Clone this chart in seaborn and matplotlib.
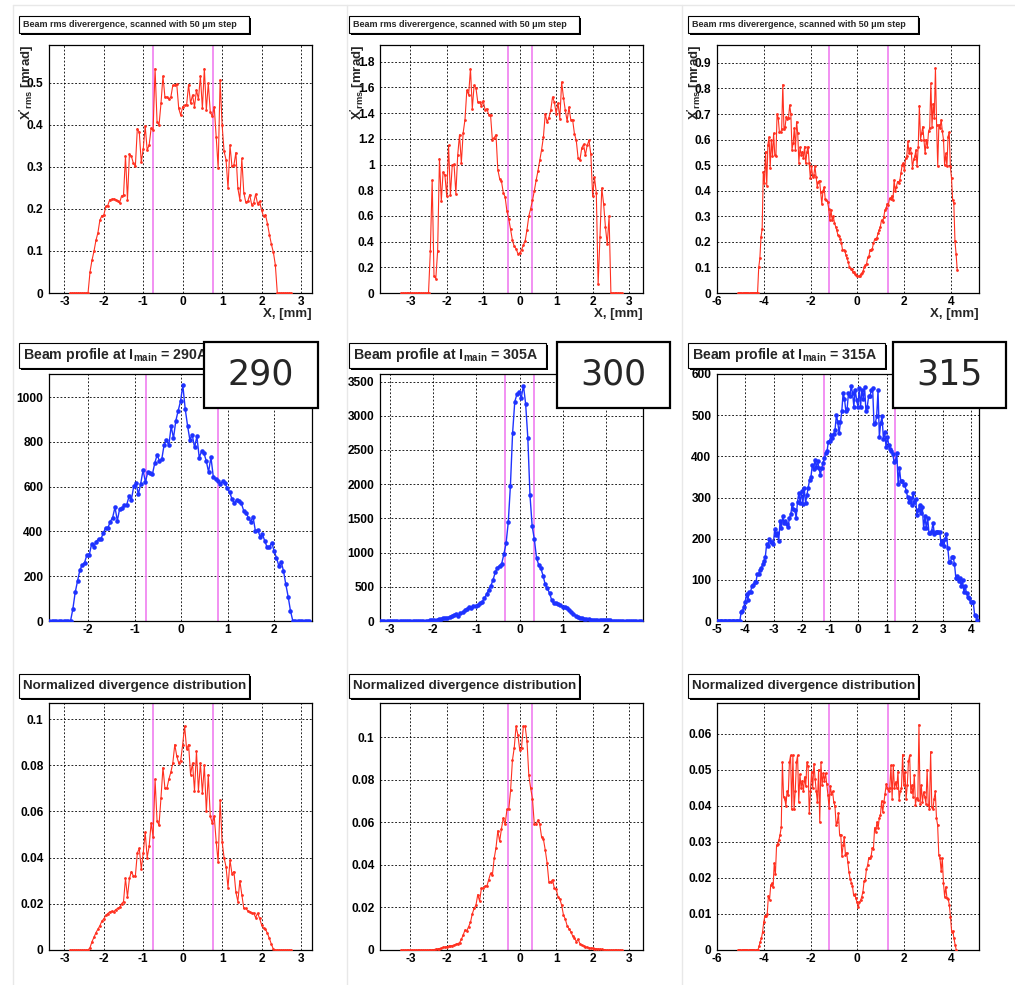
import numpy as np
import matplotlib
matplotlib.use("Agg")
import matplotlib.pyplot as plt
from matplotlib.patches import Rectangle
from matplotlib.lines import Line2D
from matplotlib.ticker import MultipleLocator, AutoMinorLocator, FuncFormatter
import seaborn as sns

# ---- data (x = position in mm, 50 um step) ----
# 290 A: rms divergence [mrad]
div_290 = [0, 0, 0, 0, 0, 0, 0, 0, 0,
    0, .050, .078, .099, .125, .143, .173, .184, .185, .206,
    .208, .222, .223, .224, .222, .220, .214, .231, .233, .325,
    .222, .331, .325, .309, .301, .391, .382, .311, .343, .397,
    .340, .352, .392, .388, .534, .408, .399, .451, .516, .466,
    .466, .462, .466, .494, .494, .497, .439, .423, .443, .447,
    .447, .496, .451, .471, .443, .483, .461, .516, .439, .534,
    .435, .499, .431, .420, .443, .372, .297, .507, .400, .337,
    .317, .249, .352, .301, .305, .334, .249, .222, .320, .239,
    .216, .218, .234, .210, .214, .235, .212, .218, .198, .182,
    .186, .165, .139, .116, .097, .067, 0,
    0, 0, 0, 0, 0, 0, 0]
div_290_range = (-2.85, 2.75)

# 300 A: rms divergence [mrad]
div_300 = [0, 0, 0, 0, 0, 0, 0, 0, 0, 0, 0, 0, 0, 0, 0,
    0, .327, .877, .135, .112, .327, 1.045, .716, .941, .915,
    .752, 1.149, .760, .993, 1.001, .773, 1.071, 1.232, 1.011, 1.247,
    1.349, 1.577, 1.543, 1.745, 1.434, 1.616, 1.597, 1.486, 1.486, 1.457,
    1.494, 1.426, 1.434, 1.387, 1.387, 1.193, 1.208, 1.232, .960, .889,
    .869, .781, .747, .635, .578, .495, .410, .363, .345, .306,
    .311, .337, .371, .405, .493, .599, .656, .721, .794, .877,
    .949, 1.032, 1.115, 1.214, 1.395, 1.330, 1.364, 1.421, 1.525, 1.486,
    1.395, 1.478, 1.356, 1.642, 1.520, 1.421, 1.338, 1.447, 1.349, 1.349,
    1.240, 1.188, 1.053, 1.032, 1.128, 1.157, 1.071, 1.149, 1.188, 1.079,
    .752, .902, .778, .067, .436, .817, .695, .514, .379, .596,
    0, 0, 0, 0, 0, 0, 0]
div_300_range = (-3.25, 2.80)

# 315 A: rms divergence [mrad]
div_315 = [0, 0, 0, 0, 0, 0, 0, 0, 0, 0, 0, 0, 0, 0, 0, 0, 0, 0,
    .10, .135, .22, .25,
    .475, .43, .553, .42, .58, .61, .49, .60, .534, .625,
    .54, .537, .70, .685, .63, .628, .64, .815, .64, .65,
    .69, .68, .685, .735, .70, .56, .586, .645, .56, .67,
    .625, .51, .57, .54, .553, .527, .573, .507, .553, .573,
    .507, .449, .495, .455, .46, .495, .455, .416, .436, .44,
    .395, .348, .40, .413, .366, .364, .357, .33, .285, .325,
    .285, .30, .275, .26, .246, .226, .222, .213, .196, .17,
    .168, .165, .148, .135, .122, .102, .094, .092, .082, .082,
    .073, .069, .068, .065, .068, .073, .078, .086, .102, .108,
    .115, .139, .144, .168, .17, .174, .194, .21, .213, .217,
    .233, .246, .26, .285, .279, .298, .325, .331, .35, .344,
    .37, .368, .38, .364, .442, .397, .416, .436, .432, .442,
    .47, .50, .507, .48, .527, .534, .593, .546, .567, .546,
    .488, .523, .534, .56, .495, .573, .733, .60, .625, .651,
    .60, .546, .60, .573, .632, .645, .82, .651, .74, .685,
    .88, .658, .497, .658, .645, .678, .632, .60, .50, .546,
    .495, .612, .628, .495, .449, .364, .353, .204, .152, .089]
div_315_range = (-5.10, 4.27)

# beam profiles [counts]
prof_290 = [0, 0, 0, 0, 0, 0, 0, 0, 0,
    0, 54, 128, 179, 228, 250, 261, 295, 295, 343,
    332, 355, 367, 367, 392, 417, 417, 444, 462, 508,
    448, 501, 504, 516, 519, 556, 541, 601, 615, 566,
    614, 674, 620, 665, 660, 656, 705, 742, 715, 723,
    787, 808, 784, 869, 817, 894, 939, 981, 1052, 948,
    873, 809, 832, 775, 824, 730, 757, 750, 715, 665,
    732, 645, 635, 627, 613, 623, 615, 593, 575, 545,
    526, 541, 534, 525, 493, 484, 462, 444, 466, 402,
    407, 377, 387, 358, 329, 331, 350, 313, 283, 247,
    265, 224, 164, 109, 45, 0,
    0, 0, 0, 0, 0, 0, 0]
prof_290_range = (-2.83, 2.75)

prof_305 = [0, 0, 0, 0, 0, 0, 0, 0, 0, 0, 0, 0, 0, 0, 0, 0, 0, 0, 0, 0,
    2, 4, 6, 8, 10,
    15, 20, 25, 30, 40, 50, 50, 60, 75, 90,
    100, 75, 110, 125, 160, 175, 210, 195, 225, 225,
    235, 260, 280, 330, 390, 455, 515, 600, 710, 780,
    810, 840, 980, 1135, 1440, 1980, 2745, 3205, 3315, 3345,
    3265, 3440, 3175, 2680, 1840, 1390, 1195, 925, 820, 770,
    665, 535, 480, 405, 305, 260, 260, 250, 235, 210,
    210, 185, 160, 125, 100, 80, 65, 50, 40, 30,
    25, 25, 20, 20, 18, 15, 15, 12, 10, 10,
    8, 8, 6, 6, 5, 5, 4, 4, 3, 3, 2, 2, 2, 1, 1, 0]
prof_305_range = (-3.23, 2.80)

prof_315 = [0, 0, 0, 0, 0, 0, 0, 0, 0, 0, 0, 0, 0, 0, 0, 0, 0,
    0, 21, 24, 35, 47, 65, 51, 71, 71, 84,
    88, 94, 94, 114, 114, 124, 128, 138, 146, 156,
    186, 183, 199, 193, 191, 186, 224, 209, 213, 195,
    242, 227, 254, 238, 242, 235, 229, 250, 259, 284,
    272, 270, 250, 290, 311, 286, 316, 285, 323, 286,
    306, 324, 343, 349, 378, 370, 392, 373, 389, 371,
    355, 371, 384, 397, 408, 412, 436, 438, 452, 444,
    454, 465, 501, 483, 456, 483, 509, 554, 540, 511,
    516, 554, 546, 570, 554, 521, 562, 538, 521, 565,
    521, 562, 540, 568, 511, 521, 546, 546, 560, 565,
    478, 481, 497, 560, 448, 481, 497, 443, 460, 422,
    448, 428, 418, 412, 405, 386, 389, 408, 332, 371,
    339, 339, 331, 332, 315, 302, 290, 298, 282, 311,
    290, 297, 258, 270, 282, 262, 278, 225, 254, 225,
    251, 213, 213, 219, 238, 211, 216, 216, 217, 217,
    186, 195, 181, 199, 211, 178, 144, 144, 156, 156,
    138, 105, 110, 97, 104, 84, 100, 71, 84, 67,
    59, 55, 45, 47, 45, 15, 11, 2]
prof_315_range = (-5.00, 4.21)

# normalized divergence distributions
ndiv_290 = [0, 0, 0, 0, 0, 0, 0, 0, 0,
    0, .001, .0036, .0055, .0075, .009, .0105, .0125, .0135, .015,
    .0158, .0165, .0168, .0165, .0175, .018, .0185, .020, .021, .031,
    .023, .031, .034, .032, .032, .042, .044, .035, .042, .051,
    .040, .045, .055, .049, .074, .056, .054, .066, .079, .070,
    .070, .074, .077, .081, .089, .084, .081, .082, .089, .097,
    .087, .089, .076, .081, .069, .086, .069, .081, .068, .080,
    .060, .076, .058, .055, .058, .047, .038, .065, .047, .040,
    .036, .027, .039, .033, .034, .025, .021, .030, .024, .018,
    .018, .017, .0165, .016, .016, .014, .016, .0137, .011, .0094,
    .009, .0072, .005, .0025, .0004, 0,
    0, 0, 0, 0, 0, 0, 0, 0]
ndiv_290_range = (-2.85, 2.75)

ndiv_300 = [0, 0, 0, 0, 0, 0, 0, 0, 0, 0, 0, 0, 0, 0, 0, 0, 0,
    .0001, .0002, .0004, .0005, .0007, .0009, .0012, .0014,
    .0016, .0017, .0019, .0021, .0023, .0026, .0030, .0034, .005, .007,
    .0094, .009, .011, .013, .017, .0195, .021, .026, .023, .029,
    .029, .030, .030, .033, .036, .035, .043, .048, .056, .051,
    .057, .062, .059, .066, .066, .075, .089, .095, .105, .101,
    .094, .095, .105, .105, .098, .082, .076, .071, .059, .059,
    .061, .059, .053, .052, .047, .041, .032, .032, .033, .029,
    .0286, .025, .024, .021, .0164, .0145, .0114, .010, .0086, .0067,
    .0058, .0039, .005, .003, .0023, .0019, .0016, .0012, .0011, .0008,
    .0008,
    .0007, .0006, .0005, .0004, .0003, .0002, .0001,
    0, 0, 0, 0, 0, 0, 0, 0, 0]
ndiv_300_range = (-3.25, 2.80)

ndiv_315 = [0, 0, 0, 0, 0, 0, 0, 0, 0, 0, 0, 0, 0, 0, 0, 0, 0, 0,
    .001, .0023, .0032, .005, .0077, .0095, .0095, .010, .015, .014,
    .018, .0185, .0175, .024, .021, .029, .0295, .0305, .032, .034,
    .052, .0425, .042, .040, .044, .043, .052, .054, .039, .054,
    .039, .044, .052, .054, .041, .0487, .045, .047, .044, .048,
    .0455, .052, .051, .038, .044, .0495, .045, .0517, .0475, .044,
    .041, .050, .0355, .052, .0457, .049, .047, .049, .046, .043,
    .0395, .0455, .0434, .044, .041, .040, .0348, .0355, .038, .032,
    .032, .026, .029, .0314, .0263, .027, .0245, .0217, .0198, .0187,
    .0178, .0152, .0154, .0143, .0132, .012, .0132, .0138, .0148, .0162,
    .0191, .0194, .0224, .0235, .0256, .0256, .026, .0283, .028, .0339,
    .0328, .0355, .0337, .0366, .0374, .0413, .0383, .041, .0434, .046,
    .0448, .044, .045, .0512, .042, .0512, .0448, .0466, .045, .0494,
    .0415, .044, .0448, .0542, .0457, .0494, .042, .0457, .0523, .054,
    .0438, .0457, .0425, .0485, .0403, .0422, .0415, .0625, .0406, .0457,
    .041, .0438, .0425, .0406, .050, .0402, .0392, .055, .0397, .0392,
    .042, .044, .0366, .0346, .0263, .0256, .0219, .0254, .0185, .0148,
    .0175, .0143, .0141, .0126, .0092, .0051, .0053, .0032, .0014, 0]
ndiv_315_range = (-5.10, 4.23)

# acceptance (magenta) lines, mm
cut_290 = [-0.76, 0.78]
cut_300 = [-0.33, 0.33]
cut_315 = [-1.22, 1.30]

currents = ["290", "300", "315"]
profile_titles = ["290A", "305A", "315A"]

# ---- style ----
sns.set_style("white")
plt.rcParams["font.family"] = ["Liberation Sans", "DejaVu Sans"]
plt.rcParams["font.weight"] = "bold"
plt.rcParams["mathtext.fontset"] = "custom"
plt.rcParams["mathtext.rm"] = "Liberation Sans:bold"
plt.rcParams["mathtext.bf"] = "Liberation Sans:bold"
plt.rcParams["mathtext.it"] = "Liberation Sans:bold"

RED = "#ff3020"
BLUE = "#1e32ff"
MAGENTA = "#f07ef0"

W, H = 1015, 985
fig = plt.figure(figsize=(W / 100, H / 100), dpi=100)
fig.patch.set_facecolor("white")


def add_px_axes(l, t, r, b):
    return fig.add_axes([l / W, 1 - b / H, (r - l) / W, (b - t) / H])


def fmt(v, p):
    return "{:g}".format(round(v, 6) + 0.0)


def style_axes(ax, xlim, ylim, xmaj, xmin_n, ymaj, ymin_n):
    ax.set_xlim(*xlim)
    ax.set_ylim(*ylim)
    ax.xaxis.set_major_locator(MultipleLocator(xmaj))
    ax.xaxis.set_minor_locator(AutoMinorLocator(xmin_n))
    ax.yaxis.set_major_locator(MultipleLocator(ymaj))
    ax.yaxis.set_minor_locator(AutoMinorLocator(ymin_n))
    ax.xaxis.set_major_formatter(FuncFormatter(fmt))
    ax.yaxis.set_major_formatter(FuncFormatter(fmt))
    ax.tick_params(which="both", direction="in", top=False, right=False,
                   width=0.8, labelsize=8.6, colors="black")
    ax.tick_params(which="major", length=7)
    ax.tick_params(which="minor", length=3.5)
    ax.tick_params(axis="x", pad=2.5)
    ax.tick_params(axis="y", pad=4)
    ax.grid(True, which="major", color="black", linestyle=(0, (2.2, 2.2)),
            linewidth=0.6)
    ax.set_axisbelow(True)
    for s in ax.spines.values():
        s.set_color("black")
        s.set_linewidth(0.9)
    ax.set_xlabel("")
    ax.set_ylabel("")


def title_box(l, t, r, b, text, size):
    fig.patches.append(Rectangle(((l + 2) / W, 1 - (b + 2) / H), (r - l) / W, (b - t) / H,
                                 transform=fig.transFigure, facecolor="black",
                                 edgecolor="none", zorder=5))
    fig.patches.append(Rectangle((l / W, 1 - b / H), (r - l) / W, (b - t) / H,
                                 transform=fig.transFigure, facecolor="white",
                                 edgecolor="black", linewidth=0.8, zorder=6))
    fig.text((l + 4) / W, 1 - (t + b) / 2 / H, text, ha="left", va="center",
             fontsize=size, fontweight="bold", zorder=7)


def draw_series(ax, y, xr, color, ms, lw):
    x = np.linspace(xr[0], xr[1], len(y))
    sns.lineplot(x=x, y=np.asarray(y, dtype=float), ax=ax, color=color,
                 estimator=None, sort=False, marker="o", markersize=ms,
                 markeredgewidth=0, linewidth=lw, zorder=3)


# faint page separators
for xl in [13, 347, 682]:
    fig.add_artist(Line2D([xl / W, xl / W], [0, 1 - 5 / H], color="#e8e8e8",
                          linewidth=1, transform=fig.transFigure, zorder=0))
fig.add_artist(Line2D([13 / W, 1], [1 - 5 / H, 1 - 5 / H], color="#e8e8e8",
                      linewidth=1, transform=fig.transFigure, zorder=0))

cols = [(49, 312), (380, 643), (717, 979)]
cuts = [cut_290, cut_300, cut_315]
title_x = [19, 349, 688]

# row 1: rms divergence
row1 = [
    (div_290, div_290_range, (-3.39, 3.28), 1, 4, (0, 0.59), 0.1, 5),
    (div_300, div_300_range, (-3.83, 3.38), 1, 5, (0, 1.93), 0.2, 4),
    (div_315, div_315_range, (-6.0, 5.2), 2, 4, (0, 0.97), 0.1, 5),
]
for i, (y, xr, xl, xmj, xmn, yl, ymj, ymn) in enumerate(row1):
    ax = add_px_axes(cols[i][0], 45, cols[i][1], 293)
    for c in cuts[i]:
        ax.axvline(c, color=MAGENTA, linewidth=1.2, zorder=2)
    draw_series(ax, y, xr, RED, 2.0, 0.8)
    style_axes(ax, xl, yl, xmj, xmn, ymj, ymn)
    ax.text(-0.085, 1.0, r"$\mathbf{X'_{rms}}$ [mrad]", rotation=90,
            ha="center", va="top", transform=ax.transAxes, fontsize=9.5,
            fontweight="bold")
    ax.text(1.0, -0.085, "X, [mm]", ha="right", va="center",
            transform=ax.transAxes, fontsize=9.5, fontweight="bold")
    title_box(title_x[i], 16, title_x[i] + 230, 33,
              "Beam rms diverergence, scanned with 50 \u03bcm step", 6.5)

# row 2: beam profiles
row2 = [
    (prof_290, prof_290_range, (-2.84, 2.81), 1, 4, (0, 1103), 200, 4),
    (prof_305, prof_305_range, (-3.23, 2.85), 1, 5, (0, 3610), 500, 5),
    (prof_315, prof_315_range, (-5.0, 4.27), 1, 4, (0, 600), 100, 5),
]
big_x = [(204, 318), (557, 670), (893, 1006)]
for i, (y, xr, xl, xmj, xmn, yl, ymj, ymn) in enumerate(row2):
    ax = add_px_axes(cols[i][0], 374, cols[i][1], 621)
    for c in cuts[i]:
        ax.axvline(c, color=MAGENTA, linewidth=1.2, zorder=2)
    draw_series(ax, y, xr, BLUE, 3.3, 1.0)
    style_axes(ax, xl, yl, xmj, xmn, ymj, ymn)
    title_box(title_x[i], 343, title_x[i] + 197, 368,
              r"Beam profile at I$_{\mathbf{main}}$ = " + profile_titles[i], 10.2)
    l, r = big_x[i]
    fig.patches.append(Rectangle((l / W, 1 - 408 / H), (r - l) / W, 66 / H,
                                 transform=fig.transFigure, facecolor="white",
                                 edgecolor="black", linewidth=1.6, zorder=10))
    fig.text((l + r) / 2 / W, 1 - 375 / H, currents[i], ha="center",
             va="center", fontsize=25, fontweight="normal",
             family="DejaVu Sans", zorder=11)

# row 3: normalized divergence distributions
row3 = [
    (ndiv_290, ndiv_290_range, (-3.39, 3.28), 1, 4, (0, 0.107), 0.02, 4),
    (ndiv_300, ndiv_300_range, (-3.83, 3.38), 1, 5, (0, 0.116), 0.02, 4),
    (ndiv_315, ndiv_315_range, (-6.0, 5.2), 2, 4, (0, 0.0685), 0.01, 5),
]
for i, (y, xr, xl, xmj, xmn, yl, ymj, ymn) in enumerate(row3):
    ax = add_px_axes(cols[i][0], 703, cols[i][1], 950)
    for c in cuts[i]:
        ax.axvline(c, color=MAGENTA, linewidth=1.2, zorder=2)
    draw_series(ax, y, xr, RED, 2.0, 0.8)
    style_axes(ax, xl, yl, xmj, xmn, ymj, ymn)
    title_box(title_x[i], 674, title_x[i] + 230, 698,
              "Normalized divergence distribution", 9.6)

fig.savefig("out.png", dpi=100)
